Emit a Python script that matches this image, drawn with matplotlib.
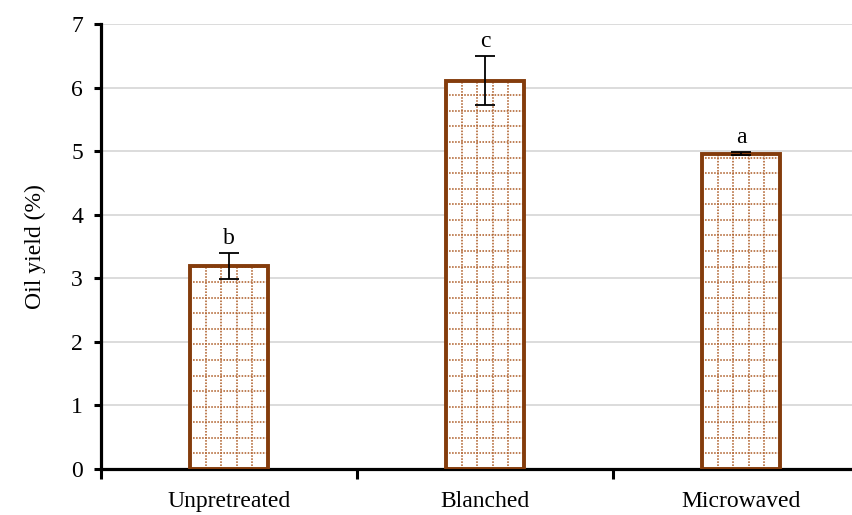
import matplotlib.pyplot as plt
import numpy as np

# data
treatments = ['Unpretreated', 'Blanched', 'Microwaved']
oil_yield = [3.19, 6.11, 4.96]
yield_sd = [0.20, 0.38, 0.02]
letters = ['b', 'c', 'a']

plt.rcParams['font.family'] = ['Liberation Serif', 'DejaVu Serif']

brown = '#843c0c'
dots = '#b0622e'
fig = plt.figure(figsize=(8.53, 5.15), dpi=100)
ax = fig.add_axes([101 / 853, 46 / 515, 768 / 853, 445 / 515])

x = np.arange(len(treatments))
ax.bar(x, oil_yield, width=0.305, color='white', edgecolor='none', zorder=2.5)
bars = ax.bar(x, oil_yield, width=0.305, color='none', edgecolor=brown,
              linewidth=2.8, zorder=4)

# dotted grid pattern inside the bars
for b in bars:
    x0, w, h = b.get_x(), b.get_width(), b.get_height()
    for xv in x0 + w * np.arange(1, 5) / 5:
        ln = ax.vlines(xv, 0, h, colors=dots, linestyles=(0, (1, 0.9)),
                       linewidth=1.15, zorder=3.5)
        ln.set_clip_path(b)
    for yv in np.arange(0.245, h, 0.245):
        ln = ax.hlines(yv, x0, x0 + w, colors=dots, linestyles=(0, (1, 0.9)),
                       linewidth=1.15, zorder=3.5)
        ln.set_clip_path(b)

ax.errorbar(x, oil_yield, yerr=yield_sd, fmt='none', ecolor='black',
            elinewidth=1.3, capsize=7, capthick=1.3, zorder=5)

for xi, v, e, s in zip(x, oil_yield, yield_sd, letters):
    ax.annotate(s, (xi, v + e), xytext=(0, 3), textcoords='offset points',
                ha='center', va='bottom', fontsize=17)

ax.set_xlim(-0.5, 2.5)
ax.set_ylim(0, 7)
ax.set_yticks(range(8))
ax.set_xticks([-0.5, 0.5, 1.5, 2.5])
ax.set_xticklabels([])
ax.set_xticks(x, minor=True)
ax.set_xticklabels(treatments, minor=True)
ax.tick_params(axis='x', which='minor', length=0, pad=16, labelsize=17)
ax.tick_params(axis='x', which='major', direction='out', length=7, width=2.2)
ax.tick_params(axis='y', direction='out', length=5, width=2.2, labelsize=17, pad=8)
ax.set_ylabel('Oil yield (%)', fontsize=17, labelpad=18)

ax.grid(axis='y', color='#d9d9d9', linewidth=1.3, zorder=0)
ax.set_axisbelow(True)
for s in ['top', 'right']:
    ax.spines[s].set_visible(False)
for s in ['left', 'bottom']:
    ax.spines[s].set_linewidth(2.3)

fig.savefig('out.png', dpi=100)
